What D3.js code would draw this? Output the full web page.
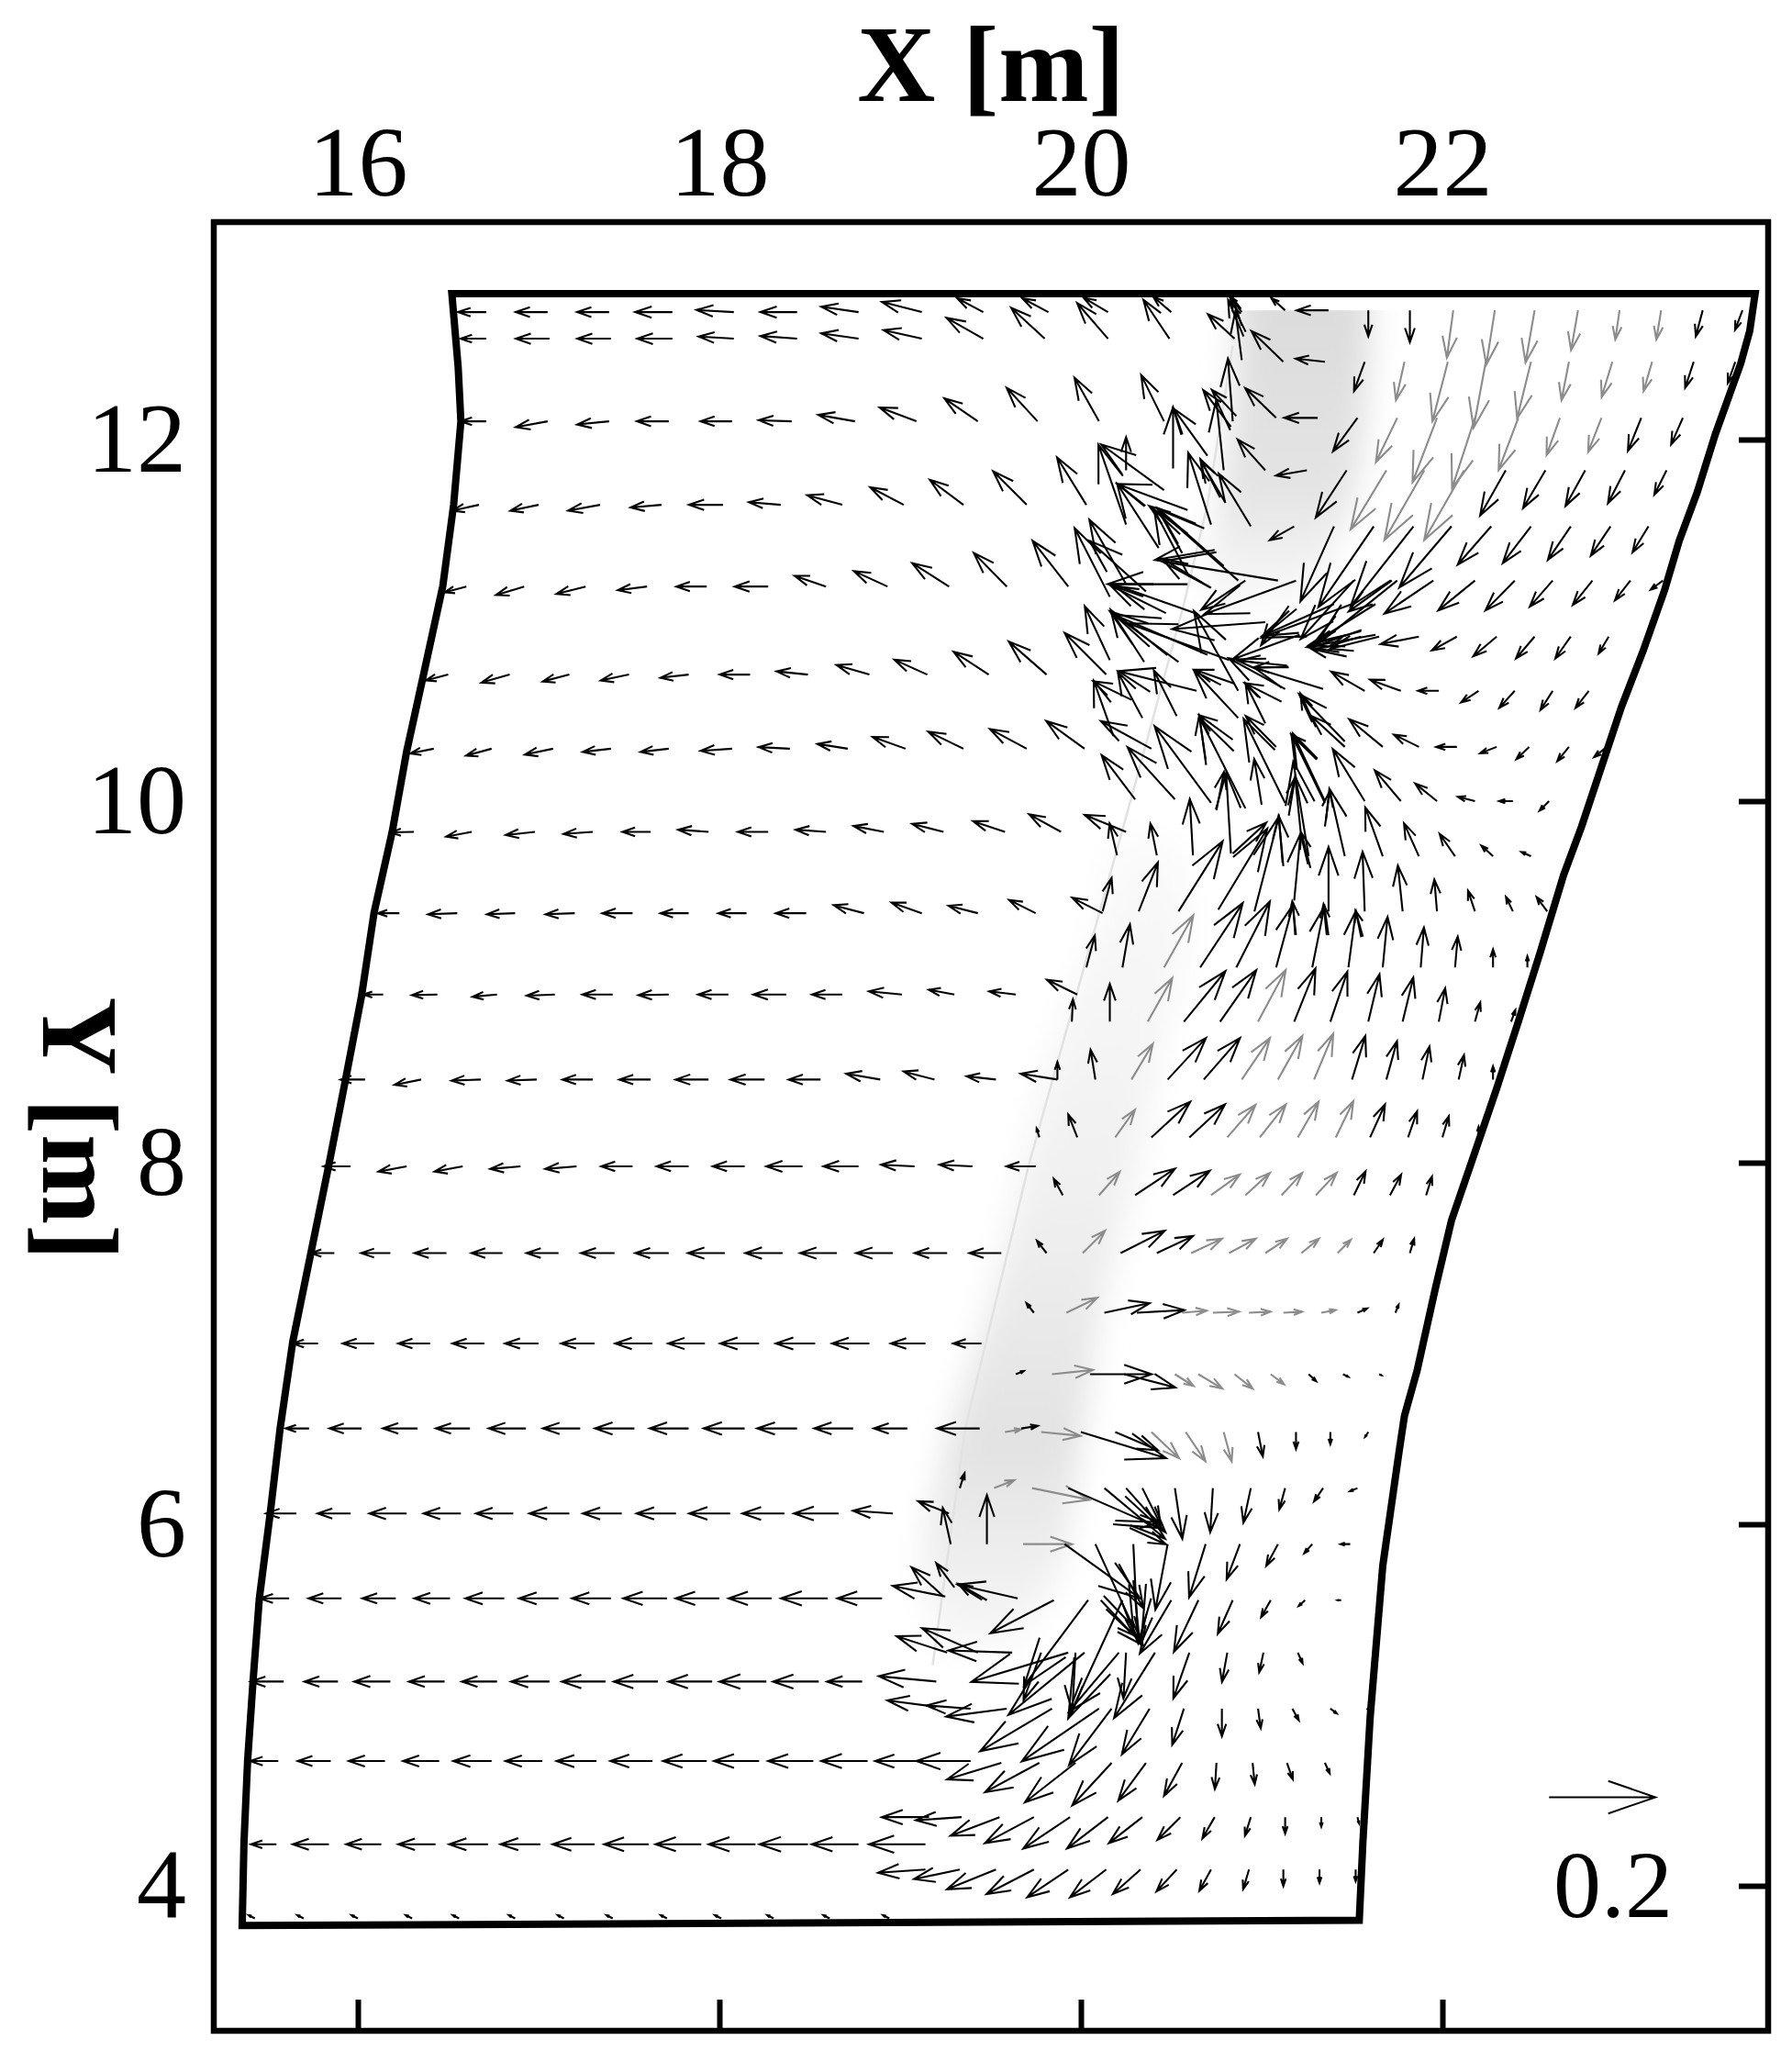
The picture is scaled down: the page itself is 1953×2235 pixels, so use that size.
<!DOCTYPE html>
<html>
<head>
<meta charset="utf-8">
<style>
  body { margin: 0; background: #fff; }
  text { font-family: "Liberation Serif", serif; fill: #000; }
</style>
<script src="https://cdn.jsdelivr.net/npm/d3@7"></script>
</head>
<body>
<div id="chart"></div>
<script>
var svgWidth = 1953;
var svgHeight = 2235;

// Axis ticks
var xTicks = [16, 18, 20, 22];
var yTicks = [4, 6, 8, 10, 12];

// Outline of the measured area [m]
var outlineX = [16.52,16.555,16.57,16.53,16.47,16.37,16.27,16.19,16.09,16.02,15.93,15.84,15.74,15.64,15.57,15.515,15.455,15.42,15.39,15.37,15.36,21.54,21.56,21.60,21.67,21.76,21.79,21.86,21.96,22.05,22.16,22.30,22.42,22.54,22.67,22.77,22.99,23.11,23.23,23.31,23.41,23.51,23.65,23.70,23.73];
var outlineY = [12.807,12.40,12.10,11.64,11.19,10.73,10.275,9.83,9.385,8.92,8.45,7.99,7.50,7.01,6.53,6.06,5.59,5.13,4.69,4.24,3.78,3.81,4.24,4.93,5.77,6.40,6.60,6.85,7.30,7.68,8.00,8.41,8.78,9.16,9.59,9.86,10.52,10.83,11.17,11.44,11.71,12.03,12.42,12.60,12.807];

// Faint line along the interface [m]
var interfaceX = [20.84,20.70,20.57,20.28,19.71,19.36,19.18];
var interfaceY = [12.52,11.64,11.09,10.02,7.98,6.53,5.22];

// Grey shaded band, upper and lower part [m]
var shadeUpperY = [13.10,12.72,11.89,11.39,11.03];
var shadeUpperL = [20.87,20.87,20.80,20.72,20.67];
var shadeUpperR = [21.60,21.60,21.55,21.40,21.20];
var shadeLowerY = [9.79,9.37,8.64,7.92,7.20,6.47,5.75,5.31];
var shadeLowerL = [20.17,20.10,19.85,19.67,19.49,19.27,19.13,19.23];
var shadeLowerR = [20.50,20.60,20.45,20.30,20.12,20.00,19.88,19.62];

// Left part of the mesh: one Y per row, tail X and velocity per arrow
var leftRowY = [12.705,12.558,12.101,11.639,11.187,10.70,10.29,9.83,9.38,8.93,8.46,7.98,7.50,7.00,6.53,6.06,5.59,5.13,4.69,4.23,3.82];
var leftX = [
  [16.71,17.05,17.39,17.74,18.08,18.43,18.77,19.12,19.46,19.82,20.15,20.50,20.89],
  [16.71,17.06,17.40,17.74,18.08,18.43,18.77,19.12,19.46,19.80,20.15,20.49,20.85],
  [16.71,17.05,17.39,17.72,18.07,18.40,18.75,19.09,19.43,19.76,20.10,20.46,20.84],
  [16.67,17.00,17.34,17.68,18.02,18.34,18.68,19.02,19.35,19.70,20.03],
  [16.60,16.92,17.26,17.60,17.93,18.27,18.59,18.93,19.27,19.59,19.93],
  [16.50,16.84,17.17,17.50,17.83,18.17,18.49,18.83,19.15,19.49,19.81,20.14],
  [16.42,16.74,17.08,17.40,17.72,18.07,18.39,18.71,19.03,19.35,19.70,20.02,20.39],
  [16.31,16.63,16.98,17.30,17.62,17.94,18.27,18.59,18.91,19.24,19.58,19.89,20.25],
  [16.23,16.55,16.87,17.20,17.52,17.83,18.15,18.48,18.80,19.12,19.43,19.75,20.12],
  [16.14,16.44,16.77,17.09,17.41,17.72,18.05,18.37,18.68,19.01,19.30,19.64,19.98],
  [16.04,16.35,16.68,16.99,17.30,17.62,17.94,18.25,18.56,18.89,19.19,19.53,19.87],
  [15.96,16.27,16.58,16.90,17.21,17.52,17.83,18.14,18.46,18.77,19.08,19.40,19.75],
  [15.87,16.18,16.49,16.80,17.11,17.42,17.72,18.03,18.35,18.65,18.96,19.26,19.56],
  [15.78,16.09,16.40,16.70,17.00,17.31,17.63,17.92,18.22,18.53,18.83,19.14,19.45],
  [15.73,16.02,16.33,16.62,16.93,17.23,17.53,17.83,18.14,18.43,18.74,19.04,19.44,19.67],
  [15.66,15.96,16.27,16.57,16.86,17.17,17.46,17.76,18.06,18.36,18.66,18.96,19.27],
  [15.62,15.91,16.21,16.51,16.81,17.11,17.40,17.71,18.00,18.29,18.60,18.90],
  [15.59,15.89,16.18,16.48,16.77,17.06,17.37,17.66,17.96,18.26,18.55,18.79,19.20],
  [15.56,15.85,16.15,16.45,16.74,17.02,17.32,17.63,17.93,18.22,18.52,18.82,19.10,19.39],
  [15.55,15.84,16.13,16.43,16.72,17.01,17.31,17.61,17.90,18.20,18.49,18.77,19.14],
  [15.43,15.70,16.00,16.30,16.56,16.87,17.14,17.41,17.71,18.01,18.30,18.61,18.94]
];
var leftU = [
  [-.053,-.060,-.060,-.070,-.070,-.069,-.070,-.075,-.049,-.049,-.046,-.034,-.023],
  [-.048,-.063,-.063,-.066,-.066,-.069,-.070,-.072,-.069,-.063,-.058,-.049,-.050],
  [-.048,-.060,-.060,-.060,-.059,-.062,-.069,-.069,-.063,-.058,-.046,-.043,-.009],
  [-.050,-.053,-.060,-.058,-.064,-.060,-.066,-.063,-.063,-.063,-.055],
  [-.041,-.053,-.055,-.055,-.057,-.063,-.059,-.063,-.069,-.062,-.067],
  [-.042,-.053,-.050,-.053,-.053,-.057,-.059,-.062,-.062,-.066,-.071,-.078],
  [-.044,-.048,-.053,-.053,-.053,-.059,-.059,-.057,-.062,-.066,-.069,-.072,-.095],
  [-.044,-.048,-.055,-.055,-.053,-.057,-.057,-.057,-.057,-.059,-.060,-.060,-.078],
  [-.041,-.055,-.053,-.055,-.057,-.053,-.053,-.057,-.057,-.057,-.055,-.050,-.057],
  [-.037,-.048,-.046,-.053,-.057,-.057,-.057,-.062,-.057,-.062,-.048,-.050,-.057],
  [-.046,-.050,-.055,-.055,-.057,-.059,-.062,-.064,-.060,-.064,-.058,-.055,-.069],
  [-.051,-.053,-.053,-.057,-.059,-.059,-.060,-.060,-.068,-.066,-.063,-.062,-.055],
  [-.044,-.055,-.060,-.058,-.060,-.063,-.063,-.069,-.070,-.069,-.069,-.061,-.060],
  [-.048,-.059,-.060,-.060,-.063,-.063,-.070,-.069,-.073,-.074,-.070,-.065,-.053],
  [-.044,-.060,-.065,-.064,-.070,-.070,-.074,-.073,-.077,-.075,-.073,-.063,-.080,.031],
  [-.057,-.062,-.070,-.070,-.070,-.075,-.073,-.074,-.077,-.079,-.084,-.075,-.058],
  [-.055,-.062,-.063,-.067,-.073,-.074,-.073,-.082,-.082,-.081,-.088,-.084],
  [-.062,-.063,-.068,-.067,-.066,-.072,-.082,-.083,-.082,-.088,-.086,-.066,-.108],
  [-.053,-.062,-.068,-.068,-.072,-.069,-.075,-.079,-.082,-.085,-.085,-.087,-.081,-.102],
  [-.048,-.068,-.066,-.070,-.073,-.075,-.079,-.084,-.086,-.088,-.091,-.088,-.106],
  [-.012,-.012,-.012,-.012,-.012,-.012,-.012,-.012,-.012,-.012,-.012,-.012,-.012]
];
var leftV = [
  [0,0,0,0,.004,0,.010,.019,.026,.026,.027,.029,.030],
  [0,0,0,0,.004,.005,.010,.016,.039,.058,.067,.073,.046],
  [0,-.011,-.006,0,0,.002,.012,.026,.043,.063,.082,.087,.118],
  [-.011,-.011,-.011,-.005,0,.005,.018,.033,.047,.063,.089],
  [-.011,-.016,-.014,-.007,0,0,.020,.029,.044,.063,.086],
  [-.011,-.015,-.013,-.011,-.006,0,.006,.018,.028,.043,.062,.078],
  [-.009,-.013,-.011,-.006,-.006,-.004,.003,.009,.022,.032,.037,.052,.052],
  [-.001,-.009,-.006,-.004,0,.004,0,.004,.011,.015,.020,.033,.032],
  [0,-.002,-.002,-.002,0,0,0,0,.015,.020,.014,.025,.029],
  [0,-.001,-.004,-.002,0,-.001,0,0,0,.006,.009,.006,.028],
  [0,-.010,-.002,-.002,0,0,0,0,0,.011,.015,.006,.011],
  [0,-.010,-.010,-.005,-.005,0,0,0,0,0,.003,.003,0],
  [0,0,0,0,0,0,0,0,0,0,0,0,0],
  [0,0,0,0,0,0,0,0,0,0,0,0,0],
  [0,0,0,0,0,0,0,0,0,0,0,0,0,.005],
  [0,0,0,0,0,0,0,0,0,0,0,.005,.023],
  [0,0,0,0,0,0,0,0,0,0,0,0],
  [0,0,0,0,0,0,0,0,0,0,0,0,.010],
  [0,0,0,0,0,0,0,0,0,0,0,0,0,0],
  [0,0,0,0,0,0,0,0,0,0,0,0,0],
  [.006,.006,.006,.006,.006,.006,.006,.006,.006,.006,.006,.006,.006]
];

// Right part of the mesh, finer in Y
var rightRowY = [12.715,12.43,12.12,11.83,11.52,11.22,10.91,10.61,10.30,10.00,9.695,9.39,9.08,8.78,8.46,8.14,7.82,7.50,7.17,6.83,6.51,6.20,5.89,5.58,5.29,4.98,4.68,4.38,4.09];
var rightX = [
  [21.13,21.37,21.59,21.82,22.06,22.29,22.51,22.75,22.98,23.21,23.44,23.66],
  [21.12,21.35,21.57,21.79,22.03,22.24,22.49,22.70,22.94,23.16,23.39,23.62],
  [21.08,21.31,21.53,21.75,21.97,22.18,22.42,22.65,22.88,23.10,23.33],
  [21.02,21.25,21.47,21.69,21.90,22.12,22.35,22.57,22.79,23.01,23.24],
  [20.94,21.18,21.40,21.62,21.84,22.05,22.27,22.49,22.71,22.93,23.14],
  [20.91,21.19,21.51,21.72,21.95,22.18,22.40,22.61,22.83,23.04,23.22],
  [21.55,21.65,21.87,22.08,22.30,22.51,22.71,22.92],
  [21.57,21.77,21.98,22.20,22.40,22.61,22.81],
  [21.67,21.87,22.08,22.30,22.48,22.70,22.91],
  [21.35,21.57,21.77,21.97,22.18,22.39,22.59],
  [21.26,21.46,21.67,21.87,22.07,22.28,22.49],
  [21.37,21.57,21.78,21.97,22.18,22.39,22.58],
  [20.03,20.23,20.46,20.66,20.86,21.08,21.28,21.48,21.67,21.88,22.07,22.28,22.47],
  [19.95,20.16,20.37,20.57,20.77,20.98,21.18,21.38,21.59,21.78,21.98,22.18,22.38],
  [19.87,20.08,20.28,20.48,20.68,20.89,21.09,21.29,21.50,21.69,21.89,22.09,22.28],
  [19.77,19.98,20.19,20.39,20.60,20.81,20.99,21.20,21.41,21.60,21.81,22.00,22.20],
  [19.90,20.10,20.30,20.51,20.72,20.91,21.11,21.30,21.51,21.71,21.91],
  [19.81,20.01,20.22,20.42,20.61,20.82,21.02,21.22,21.42,21.62,21.82],
  [19.74,19.92,20.13,20.31,20.56,20.73,20.93,21.12,21.33,21.53,21.74],
  [19.64,19.84,20.05,20.24,20.52,20.65,20.85,21.05,21.26,21.45,21.65],
  [19.58,19.78,20.00,20.19,20.39,20.58,20.79,20.98,21.19,21.38,21.59],
  [19.33,19.52,19.73,19.93,20.13,20.25,20.34,20.52,20.73,20.94,21.13,21.34,21.53],
  [19.28,19.48,19.68,19.91,20.08,20.29,20.48,20.69,20.88,21.09,21.28,21.49],
  [19.85,20.04,20.11,20.23,20.50,20.65,20.84,21.05,21.24,21.44],
  [19.26,19.43,19.62,19.78,19.93,19.97,20.02,20.21,20.25,20.41,20.60,20.81,21.01,21.20],
  [19.59,19.84,20.10,20.17,20.38,20.57,20.78,20.98,21.17,21.38,21.58],
  [19.56,19.77,19.97,20.17,20.36,20.56,20.75,20.95,21.14,21.35],
  [19.16,19.34,19.55,19.74,19.94,20.15,20.34,20.55,20.74,20.94,21.13,21.33,21.53],
  [19.14,19.33,19.53,19.74,19.93,20.14,20.33,20.53,20.72,20.93,21.12,21.32,21.52]
];
var rightU = [
  [-.026,-.060,0,0,-.012,-.016,-.017,-.013,-.008,-.009,-.013,-.014],
  [-.060,-.055,-.020,-.016,-.029,-.023,-.026,-.014,-.020,-.016,-.016,-.014],
  [-.058,-.063,-.046,-.040,-.046,-.043,-.037,-.025,-.025,-.025,-.022],
  [-.052,-.058,-.058,-.067,-.075,-.075,-.048,-.042,-.037,-.032,-.023],
  [-.060,-.046,-.063,-.104,-.118,-.098,-.063,-.053,-.043,-.037,-.030],
  [-.083,-.172,-.100,-.081,-.092,-.069,-.055,-.043,-.037,-.029,-.023],
  [-.058,-.092,-.072,-.047,-.044,-.035,-.029,-.019],
  [-.063,-.058,-.039,-.033,-.029,-.023,-.025],
  [-.063,-.047,-.039,-.031,-.024,-.022,-.024],
  [-.060,-.060,-.049,-.041,-.032,-.026,-.018],
  [-.029,-.029,-.033,-.028,-.029,-.022,-.018],
  [0,-.004,-.009,-.005,-.013,-.013,-.020],
  [.016,.014,.055,.080,.063,.032,.023,.014,.009,.006,.005,0,0],
  [.002,0,.046,.078,.068,.052,.040,.032,.021,.020,.012,.010,.008],
  [0,-.009,.040,.072,.068,.053,.046,.036,.025,.020,.013,.010,0],
  [-.005,-.017,.037,.073,.067,.053,.049,.039,.033,.028,.017,.012,0],
  [-.017,.039,.075,.069,.054,.046,.039,.039,.022,.021,.011],
  [-.018,.042,.083,.068,.058,.050,.041,.033,.025,.017,.008],
  [-.014,.058,.085,.089,.046,.049,.040,.035,.027,.018,.006],
  [.015,.077,.116,.096,.035,.045,.034,.025,.014,.010,.004],
  [.031,.074,.160,.080,.052,.037,.015,.009,0,0,-.006],
  [.009,.038,.108,.172,.114,.074,.034,.014,-.005,-.014,-.011,-.017,-.014],
  [-.015,0,.092,.142,.071,.009,-.023,-.031,-.025,-.022,-.015,-.018],
  [-.119,-.120,.080,-.102,-.059,-.046,-.028,-.018,-.012,-.007],
  [-.095,-.105,-.120,-.033,-.182,-.006,-.143,-.094,-.005,-.077,-.030,-.010,-.008,.009],
  [-.114,-.135,-.145,-.080,-.052,-.022,0,.005,.012,.012,.002],
  [-.102,-.102,-.095,-.074,-.052,-.034,-.003,.004,.011,.009],
  [-.089,-.086,-.092,-.092,-.088,-.077,-.063,-.043,-.023,-.011,0,0,.003],
  [-.089,-.086,-.092,-.089,-.077,-.068,-.052,-.038,-.022,-.011,0,0,0]
];
var rightV = [
  [.023,0,-.049,-.060,-.089,-.102,-.098,-.075,-.055,-.055,-.049,-.037],
  [.058,.006,-.055,-.072,-.112,-.124,-.106,-.072,-.066,-.055,-.049,-.040],
  [.056,0,-.063,-.083,-.121,-.132,-.098,-.070,-.064,-.062,-.050],
  [.058,-.010,-.089,-.111,-.131,-.131,-.085,-.071,-.067,-.062,-.046],
  [.099,-.026,-.141,-.152,-.150,-.115,-.072,-.069,-.063,-.055,-.049],
  [-.055,-.063,-.110,-.058,-.062,-.056,-.056,-.049,-.046,-.037,-.017],
  [-.017,-.023,-.014,-.026,-.037,-.041,-.041,-.032],
  [.036,.021,0,-.022,-.032,-.036,-.032],
  [.052,.023,0,-.012,-.023,-.027,-.019],
  [.127,.098,.058,.033,.008,0,-.018],
  [.178,.127,.092,.062,.042,.020,.008],
  [.121,.112,.086,.060,.039,.027,.027],
  [.060,.081,.098,.121,.124,.118,.115,.106,.095,.075,.058,.034,.021],
  [.042,.071,.082,.095,.097,.097,.100,.094,.089,.083,.063,.036,.022],
  [.033,.056,.067,.078,.078,.078,.082,.086,.082,.072,.062,.046,.025],
  [.017,.043,.052,.067,.062,.061,.062,.067,.068,.062,.049,.040,.020],
  [.031,.044,.050,.046,.039,.042,.042,.042,.045,.039,.035],
  [.023,.042,.042,.032,.027,.027,.027,.027,.025,.025,.027],
  [.018,.028,.018,.005,.004,.002,.002,.002,.005,.008,.015],
  [.006,.008,0,-.025,-.022,-.027,-.027,-.019,-.013,-.005,-.002],
  [.005,-.007,-.049,-.034,-.049,-.055,-.055,-.046,-.032,-.023,-.009],
  [.028,.015,-.022,-.075,-.095,-.083,-.068,-.095,-.083,-.065,-.040,-.025,-.006],
  [.068,.092,0,-.102,-.155,-.186,-.123,-.100,-.066,-.041,-.017,0],
  [-.062,-.160,-.085,-.222,-.100,-.097,-.063,-.032,-.011,0],
  [.031,.046,.004,-.089,-.055,-.111,-.117,-.111,-.086,-.123,-.086,-.055,-.037,-.020],
  [-.015,-.080,-.099,-.106,-.086,-.068,-.052,-.037,-.022,-.009,-.001],
  [-.031,-.055,-.074,-.080,-.071,-.062,-.049,-.040,-.031,-.020],
  [0,-.006,-.035,-.049,-.059,-.059,-.049,-.043,-.040,-.035,-.031,-.018,-.012],
  [-.006,-.018,-.037,-.046,-.052,-.052,-.046,-.041,-.040,-.037,-.031,-.025,-.022]
];
// Which arrows of each right row are drawn in grey (by position in the row)
var rightGrey = [
  [4,5,6,7,8,9],[3,4,5,6,7,8,9],[3,4,5,6,7,8],[3,4,5],[],[],[],[],[],[],[],[],
  [2],[2,5],[2,5,6,7],[2,5,6,7,8],[1,4,5,6,7],[1,4,5,6,7,8],[1,4,5,6,7,8],[1,4,5,6,7],
  [0,1,4,5,6],[1,2],[2],[],[],[],[],[],[]
];

// Arrows in the shear layer, these do not sit on a clean row
var shearX = [20.25,20.43,20.59,20.25,20.46,20.59,20.51,20.70,20.72,20.77,20.80,20.87,20.79,20.60,21.09,20.72,20.74,20.59,21.02,
  20.16,20.25,20.36,20.47,20.63,20.35,20.16,20.54,20.70,20.82,21.15,21.55,21.63,21.47,21.21,21.50,21.40,21.63,21.14,21.15,21.34,21.13,20.87,20.64,20.85,21.11,21.02,20.87,21.30,21.46,20.53,20.34,20.28,20.18,21.75,
  20.30,20.52,20.72,20.84,21.08,20.69,20.91,21.13,21.30,21.35,21.46,20.75,20.83,21.00,21.15,21.22,21.35,20.62,20.42,20.20,20.84,21.12,21.27,21.18,20.76,20.96,20.54,20.32,20.12,21.19,21.36,21.56,
  20.89,20.86,20.83,20.79,20.90,20.89,
  19.65,19.30,19.48,19.24,19.25,19.39,19.20,20.19,20.27,20.14,20.21,20.29,20.36];
var shearY = [11.53,11.40,11.48,11.83,11.72,11.61,11.84,11.91,11.53,11.68,11.65,11.22,11.30,11.24,11.22,11.18,11.39,11.20,10.99,
  11.13,11.20,11.16,11.04,11.04,10.77,10.78,10.77,10.81,10.78,11.08,10.94,10.92,10.80,10.92,11.09,11.09,11.09,10.75,10.74,10.62,10.62,10.61,10.61,10.65,10.55,10.43,10.46,10.41,10.33,10.47,10.46,10.56,10.36,11.22,
  10.01,10.01,9.99,10.34,10.30,10.23,9.96,9.99,10.24,9.99,10.30,9.95,9.71,9.98,9.92,9.79,9.86,9.70,9.70,9.70,9.71,9.64,9.63,9.45,9.40,9.39,9.39,9.39,9.39,9.26,9.26,9.25,
  12.44,12.13,12.07,11.83,12.57,12.63,
  5.59,5.65,5.58,5.60,5.60,4.98,4.99,6.02,5.98,5.53,5.78,5.69,5.67];
var shearU = [-.052,-.078,-.072,0,-.118,-.132,0,-.064,-.043,-.037,-.046,-.152,-.124,-.066,-.218,-.092,-.112,-.150,-.175,
  -.066,-.069,-.106,-.104,-.155,-.063,-.047,-.129,-.175,-.190,-.052,-.098,-.129,-.066,-.126,-.170,-.135,-.115,-.092,-.066,-.129,-.106,-.083,-.147,-.075,-.069,-.037,-.083,-.029,-.086,-.043,-.046,-.072,-.037,-.155,
  -.063,-.089,-.106,-.063,-.057,-.012,-.086,-.078,-.046,-.063,-.063,.014,-.009,-.014,.012,-.012,.009,-.006,-.012,-.014,.063,-.009,-.017,.012,.092,.046,.083,.036,.017,-.007,-.006,-.014,
  -.012,-.046,-.052,-.014,-.029,-.017,
  -.113,-.034,-.054,-.060,-.099,-.083,-.092,.083,.068,.052,.046,.012,-.009];
var shearV = [.150,.121,.052,.062,.086,.049,.115,.089,.135,.072,.078,.135,.109,.126,.036,.055,-.019,0,-.013,
  .129,.121,.095,.052,.055,.098,.101,.095,.075,.069,-.074,-.026,-.023,.014,-.046,-.063,-.060,-.072,.009,0,.040,.058,.150,.037,.026,.035,.075,.089,.063,.089,.086,.086,.035,.104,-.124,
  .083,.098,.144,.046,.058,.083,.170,.158,.043,.129,.058,.072,.152,.086,.072,.118,.066,.106,.060,.060,.058,.095,.066,.126,.152,.178,.132,.092,.063,.063,.058,.049,
  .092,.049,.069,.132,.069,.052,
  .026,.046,.031,.055,.020,.006,.012,-.003,-.031,-.049,-.083,-.117,-.111];

// Reference arrow
var refX = 22.59;
var refY = 4.49;
var refU = 0.2;
var refLabel = "0.2";

var xScale = d3.scaleLinear().domain([15.203, 23.802]).range([233, 1927]);
var yScale = d3.scaleLinear().domain([3.198, 13.203]).range([2213, 242]);

// metres drawn per unit of velocity, 0.2 gives a 116px arrow
var metresPerUnit = 2.944;

var svg = d3.select("#chart")
  .append("svg")
  .attr("width", svgWidth)
  .attr("height", svgHeight)
  .style("display", "block");

var defs = svg.append("defs");

defs.append("filter")
  .attr("id", "soft")
  .attr("x", "-50%").attr("y", "-20%").attr("width", "200%").attr("height", "140%")
  .append("feGaussianBlur")
  .attr("stdDeviation", 17);

defs.append("clipPath")
  .attr("id", "belowTop")
  .append("rect")
  .attr("x", 233)
  .attr("y", yScale(12.715))
  .attr("width", 1694)
  .attr("height", 1800);

var upperGrad = defs.append("linearGradient")
  .attr("id", "upperGrad")
  .attr("gradientUnits", "userSpaceOnUse")
  .attr("x1", 0).attr("x2", 0)
  .attr("y1", yScale(12.72)).attr("y2", yScale(11.03));
upperGrad.append("stop").attr("offset", "0%").attr("stop-color", "#dcdcdc");
upperGrad.append("stop").attr("offset", "60%").attr("stop-color", "#e4e4e4");
upperGrad.append("stop").attr("offset", "100%").attr("stop-color", "#fcfcfc");

var lowerGrad = defs.append("linearGradient")
  .attr("id", "lowerGrad")
  .attr("gradientUnits", "userSpaceOnUse")
  .attr("x1", 0).attr("x2", 0)
  .attr("y1", yScale(9.79)).attr("y2", yScale(5.31));
lowerGrad.append("stop").attr("offset", "0%").attr("stop-color", "#fafafa");
lowerGrad.append("stop").attr("offset", "45%").attr("stop-color", "#f0f0f0");
lowerGrad.append("stop").attr("offset", "75%").attr("stop-color", "#e2e2e2");
lowerGrad.append("stop").attr("offset", "100%").attr("stop-color", "#f8f8f8");

// Shaded band
var shadeArea = d3.area()
  .y(d => yScale(d.y))
  .x0(d => xScale(d.l))
  .x1(d => xScale(d.r))
  .curve(d3.curveMonotoneY);

var shadeGroup = svg.append("g").attr("clip-path", "url(#belowTop)");

shadeGroup.append("path")
  .attr("d", shadeArea(shadeUpperY.map((y, i) => ({y: y, l: shadeUpperL[i], r: shadeUpperR[i]}))))
  .attr("fill", "url(#upperGrad)")
  .attr("filter", "url(#soft)");

shadeGroup.append("path")
  .attr("d", shadeArea(shadeLowerY.map((y, i) => ({y: y, l: shadeLowerL[i], r: shadeLowerR[i]}))))
  .attr("fill", "url(#lowerGrad)")
  .attr("filter", "url(#soft)");

svg.append("path")
  .attr("d", d3.line().x(d => xScale(d[0])).y(d => yScale(d[1]))(interfaceX.map((x, i) => [x, interfaceY[i]])))
  .attr("fill", "none")
  .attr("stroke", "#e2e2e2")
  .attr("stroke-width", 2.5);

// Collect all arrows in one list
var arrows = [];
leftRowY.forEach(function(y, r) {
  leftX[r].forEach(function(x, i) {
    arrows.push({x: x, y: y, u: leftU[r][i], v: leftV[r][i], grey: false});
  });
});
rightRowY.forEach(function(y, r) {
  rightX[r].forEach(function(x, i) {
    arrows.push({x: x, y: y, u: rightU[r][i], v: rightV[r][i], grey: rightGrey[r].includes(i)});
  });
});
shearX.forEach(function(x, i) {
  arrows.push({x: x, y: shearY[i], u: shearU[i], v: shearV[i], grey: false});
});

// Shaft plus two barbs that end on the head
function arrowPath(d) {
  var x0 = xScale(d.x);
  var y0 = yScale(d.y);
  var x1 = xScale(d.x + d.u * metresPerUnit);
  var y1 = yScale(d.y + d.v * metresPerUnit);
  var angle = Math.atan2(y0 - y1, x0 - x1);
  var len = Math.hypot(x1 - x0, y1 - y0) * 0.47;
  var spread = 19 * Math.PI / 180;
  var p = d3.path();
  p.moveTo(x0, y0);
  p.lineTo(x1, y1);
  p.moveTo(x1 + len * Math.cos(angle - spread), y1 + len * Math.sin(angle - spread));
  p.lineTo(x1, y1);
  p.lineTo(x1 + len * Math.cos(angle + spread), y1 + len * Math.sin(angle + spread));
  return p.toString();
}

var arrowGroup = svg.append("g")
  .attr("fill", "none")
  .attr("stroke-width", 2.1);

arrowGroup.selectAll("path")
  .data(arrows.filter(d => d.grey).concat(arrows.filter(d => !d.grey)))
  .enter()
  .append("path")
  .attr("d", arrowPath)
  .attr("stroke", d => d.grey ? "#8c8c8c" : "#000");

// Outline
svg.append("path")
  .attr("d", d3.line().x(d => xScale(d[0])).y(d => yScale(d[1]))(outlineX.map((x, i) => [x, outlineY[i]])) + "Z")
  .attr("fill", "none")
  .attr("stroke", "#000")
  .attr("stroke-width", 8)
  .attr("stroke-linejoin", "miter");

// Frame
svg.append("rect")
  .attr("x", xScale.range()[0])
  .attr("y", yScale.range()[1])
  .attr("width", xScale.range()[1] - xScale.range()[0])
  .attr("height", yScale.range()[0] - yScale.range()[1])
  .attr("fill", "none")
  .attr("stroke", "#000")
  .attr("stroke-width", 6.5);

// Axes: labels on top and left, inward ticks on bottom and right
var topAxis = svg.append("g")
  .attr("transform", `translate(0, ${yScale.range()[1]})`)
  .call(d3.axisTop(xScale).tickValues(xTicks).tickSize(0).tickPadding(29));
var leftAxis = svg.append("g")
  .attr("transform", `translate(${xScale.range()[0]}, 0)`)
  .call(d3.axisLeft(yScale).tickValues(yTicks).tickSize(0).tickPadding(30));
var bottomAxis = svg.append("g")
  .attr("transform", `translate(0, ${yScale.range()[0]})`)
  .call(d3.axisBottom(xScale).tickValues(xTicks).tickSize(-34).tickFormat(""));
var rightAxis = svg.append("g")
  .attr("transform", `translate(${xScale.range()[1]}, 0)`)
  .call(d3.axisRight(yScale).tickValues(yTicks).tickSize(-32).tickFormat(""));

[topAxis, leftAxis, bottomAxis, rightAxis].forEach(function(axis) {
  axis.select(".domain").remove();
  axis.selectAll("line").attr("stroke", "#000").attr("stroke-width", 6);
  axis.selectAll("text")
    .style("font-family", '"Liberation Serif", serif')
    .style("font-size", "108px");
});

// Axis titles
svg.append("text")
  .attr("x", 1080)
  .attr("y", 110)
  .attr("text-anchor", "middle")
  .attr("font-size", "118px")
  .attr("font-weight", "bold")
  .text("X [m]");

svg.append("text")
  .attr("transform", "translate(47, 1230) rotate(90)")
  .attr("text-anchor", "middle")
  .attr("font-size", "118px")
  .attr("font-weight", "bold")
  .text("Y [m]");

// Reference arrow and its label
svg.append("path")
  .attr("d", arrowPath({x: refX, y: refY, u: refU, v: 0}))
  .attr("fill", "none")
  .attr("stroke", "#000")
  .attr("stroke-width", 2);

svg.append("text")
  .attr("x", 1758)
  .attr("y", 2089)
  .attr("text-anchor", "middle")
  .attr("font-size", "104px")
  .text(refLabel);
</script>
</body>
</html>
